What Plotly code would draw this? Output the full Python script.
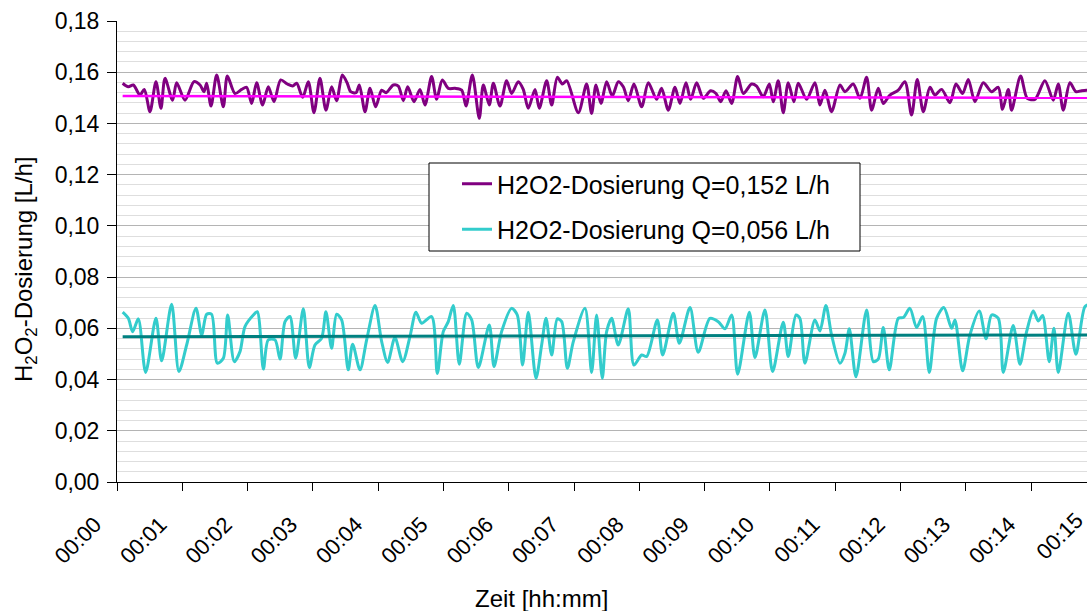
import plotly.graph_objects as go

# ---- data (time in seconds, dosing in L/h) ----
t_hi = [5.2, 10.4, 15.0, 21.1, 25.1, 30.3, 35.8, 40.4, 44.1, 51.1, 54.8, 62.5, 70.7, 76.3, 79.9, 82.4,
        86.4, 91.6, 97.7, 101.4, 108.4, 114.5, 119.1, 123.7, 128.3, 133.8, 139.0, 144.3, 150.4, 156.5,
        161.4, 165.1, 170.6, 175.8, 181.0, 186.5, 192.0, 197.2, 201.8, 207.0, 211.6, 214.7, 219.6, 222.7,
        227.9, 232.5, 237.7, 243.2, 247.2, 253.9, 258.5, 263.1, 267.1, 272.9, 278.4, 283.0, 289.1, 293.7,
        298.9, 304.4, 310.6, 316.7, 320.7, 326.5, 332.9, 336.6, 342.1, 345.8, 351.9, 358.0, 362.6, 368.7,
        373.3, 377.9, 384.1, 388.0, 394.8, 399.4, 404.6, 409.2, 413.2, 423.9, 431.5, 436.1, 440.1, 444.7,
        449.9, 455.1, 460.6, 465.2, 469.8, 475.0, 482.1, 488.2, 495.8, 500.4, 506.6, 512.7, 517.3, 522.8,
        527.1, 532.6, 538.7, 545.5, 550.4, 554.7, 559.6, 564.8, 570.3, 575.5, 583.1, 587.7, 593.8, 599.4,
        603.0, 607.6, 612.2, 616.8, 622.0, 626.0, 633.7, 641.3, 645.9, 650.5, 656.6, 664.3, 668.9, 676.5,
        682.7, 688.8, 693.4, 699.5, 704.1, 710.2, 717.9, 724.0, 730.1, 735.3, 740.9, 747.0, 751.6, 757.7,
        765.4, 770.9, 777.0, 782.2, 788.3, 796.0, 803.6, 809.8, 813.7, 819.0, 822.0, 830.3, 836.4, 843.5,
        852.6, 860.3, 864.9, 869.5, 875.6, 881.1, 886.3, 890.9, 894.0]
q_hi = [0.1557, 0.1543, 0.1550, 0.1511, 0.1533, 0.1446, 0.1563, 0.1459, 0.1576, 0.1491, 0.1559, 0.1491,
        0.1563, 0.1550, 0.1524, 0.1557, 0.1468, 0.1589, 0.1465, 0.1585, 0.1517, 0.1533, 0.1541, 0.1478,
        0.1559, 0.1472, 0.1543, 0.1485, 0.1570, 0.1554, 0.1546, 0.1557, 0.1502, 0.1563, 0.1442, 0.1576,
        0.1452, 0.1543, 0.1489, 0.1589, 0.1557, 0.1524, 0.1520, 0.1550, 0.1446, 0.1537, 0.1465, 0.1530,
        0.1520, 0.1550, 0.1546, 0.1489, 0.1543, 0.1485, 0.1533, 0.1472, 0.1583, 0.1494, 0.1570, 0.1537,
        0.1537, 0.1530, 0.1468, 0.1589, 0.1420, 0.1550, 0.1472, 0.1557, 0.1468, 0.1567, 0.1517, 0.1563,
        0.1533, 0.1459, 0.1533, 0.1459, 0.1567, 0.1472, 0.1580, 0.1554, 0.1567, 0.1442, 0.1554, 0.1439,
        0.1550, 0.1478, 0.1563, 0.1507, 0.1563, 0.1543, 0.1489, 0.1554, 0.1465, 0.1559, 0.1494, 0.1537,
        0.1452, 0.1541, 0.1478, 0.1559, 0.1494, 0.1559, 0.1498, 0.1528, 0.1517, 0.1485, 0.1528, 0.1478,
        0.1583, 0.1517, 0.1554, 0.1546, 0.1504, 0.1554, 0.1485, 0.1567, 0.1442, 0.1559, 0.1485, 0.1557,
        0.1494, 0.1559, 0.1472, 0.1530, 0.1446, 0.1550, 0.1524, 0.1554, 0.1498, 0.1580, 0.1452, 0.1537,
        0.1478, 0.1511, 0.1530, 0.1563, 0.1433, 0.1572, 0.1446, 0.1541, 0.1511, 0.1533, 0.1481, 0.1554,
        0.1517, 0.1572, 0.1485, 0.1559, 0.1524, 0.1541, 0.1455, 0.1533, 0.1452, 0.1585, 0.1498, 0.1494,
        0.1567, 0.1491, 0.1554, 0.1452, 0.1559, 0.1524, 0.1528, 0.1530, 0.1530]

t_lo = [5.2, 10.4, 14.4, 19.6, 26.3, 35.8, 41.0, 50.2, 56.9, 64.0, 72.6, 77.8, 82.4, 86.9, 92.2, 97.7,
        101.7, 107.8, 113.0, 117.6, 125.3, 128.9, 134.5, 139.0, 145.2, 149.8, 154.4, 158.9, 164.2, 171.2,
        176.7, 181.9, 188.0, 192.0, 197.2, 201.8, 206.4, 212.5, 216.5, 223.3, 229.4, 237.1, 243.2, 248.7,
        255.4, 262.5, 269.2, 274.7, 279.9, 289.1, 294.3, 299.8, 304.4, 309.0, 314.5, 321.3, 325.9, 332.0,
        342.1, 346.4, 353.4, 362.6, 367.8, 372.7, 377.9, 385.0, 390.2, 394.2, 399.4, 404.6, 408.6, 413.8,
        419.3, 430.0, 436.1, 440.7, 445.9, 449.9, 454.5, 460.6, 469.8, 475.0, 482.1, 486.7, 496.5, 501.4,
        511.2, 516.7, 526.5, 534.1, 544.8, 552.5, 558.6, 564.8, 570.3, 581.0, 586.2, 595.4, 602.4, 612.2,
        616.8, 623.9, 627.5, 632.1, 641.3, 645.9, 651.4, 656.6, 664.3, 668.9, 672.9, 679.0, 688.8, 694.9,
        699.5, 704.1, 709.6, 717.9, 722.5, 728.6, 734.7, 740.3, 746.4, 753.1, 759.8, 766.9, 770.0, 777.0,
        783.7, 792.3, 798.5, 803.6, 809.8, 814.4, 823.5, 829.7, 835.8, 841.9, 846.5, 850.5, 856.6, 860.9,
        864.9, 874.1, 881.1, 889.4, 894.0]
q_lo = [0.0663, 0.0639, 0.0587, 0.0637, 0.0428, 0.0639, 0.0473, 0.0694, 0.0431, 0.0535, 0.0678, 0.0574,
        0.0655, 0.0655, 0.0464, 0.0483, 0.0652, 0.0470, 0.0509, 0.0607, 0.0652, 0.0665, 0.0441, 0.0555,
        0.0555, 0.0480, 0.0626, 0.0646, 0.0483, 0.0676, 0.0447, 0.0535, 0.0561, 0.0665, 0.0522, 0.0655,
        0.0633, 0.0438, 0.0538, 0.0438, 0.0555, 0.0689, 0.0548, 0.0467, 0.0564, 0.0470, 0.0568, 0.0663,
        0.0620, 0.0646, 0.0424, 0.0587, 0.0626, 0.0689, 0.0460, 0.0659, 0.0633, 0.0447, 0.0613, 0.0451,
        0.0587, 0.0678, 0.0652, 0.0457, 0.0663, 0.0405, 0.0535, 0.0639, 0.0496, 0.0637, 0.0626, 0.0444,
        0.0548, 0.0678, 0.0428, 0.0652, 0.0405, 0.0587, 0.0639, 0.0535, 0.0676, 0.0457, 0.0496, 0.0490,
        0.0633, 0.0496, 0.0659, 0.0542, 0.0681, 0.0507, 0.0639, 0.0626, 0.0598, 0.0652, 0.0421, 0.0663,
        0.0486, 0.0672, 0.0431, 0.0624, 0.0490, 0.0652, 0.0639, 0.0464, 0.0633, 0.0590, 0.0689, 0.0574,
        0.0464, 0.0503, 0.0598, 0.0411, 0.0672, 0.0470, 0.0480, 0.0603, 0.0438, 0.0639, 0.0642, 0.0678,
        0.0603, 0.0646, 0.0428, 0.0639, 0.0681, 0.0600, 0.0633, 0.0434, 0.0574, 0.0668, 0.0559, 0.0652,
        0.0639, 0.0428, 0.0611, 0.0460, 0.0587, 0.0668, 0.0629, 0.0650, 0.0470, 0.0600, 0.0428, 0.0659,
        0.0499, 0.0685, 0.0694]

# linear trend lines (start / end values)
trend_hi = [0.1507, 0.1500]
trend_lo = [0.0567, 0.0574]

names = ["H2O2-Dosierung Q=0,152 L/h", "H2O2-Dosierung Q=0,056 L/h"]
tick_minutes = list(range(0, 16))
tick_labels = ["00:%02d" % m for m in tick_minutes]

x_max = 14.855  # visible end of the time axis (minutes)

FONT = "Liberation Sans, Arial, sans-serif"

PLOT_L, PLOT_T, PLOT_W, PLOT_H = 117, 21, 970, 461   # plot area in page pixels
PLOT_B = PLOT_T + PLOT_H
W, H = 1087, 611


def px(xp):
    return (xp - PLOT_L) / PLOT_W


def py(yp):
    return (PLOT_B - yp) / PLOT_H


def minutes(ts):
    return [t / 60.0 for t in ts]


fig = go.Figure()
fig.add_trace(go.Scatter(x=minutes(t_hi), y=q_hi, mode="lines", name=names[0],
                         line=dict(color="#800080", width=3, shape="spline", smoothing=0.8),
                         legendgroup="a"))
fig.add_trace(go.Scatter(x=minutes([t_hi[0], t_hi[-1]]), y=trend_hi, mode="lines", showlegend=False,
                         line=dict(color="#FF00FF", width=2.5)))
fig.add_trace(go.Scatter(x=minutes(t_lo), y=q_lo, mode="lines", name=names[1],
                         line=dict(color="#33CCCC", width=3, shape="spline", smoothing=0.8),
                         legendgroup="b"))
fig.add_trace(go.Scatter(x=minutes([t_lo[0], t_lo[-1]]), y=trend_lo, mode="lines", showlegend=False,
                         line=dict(color="#008080", width=3)))

vis = [m for m in tick_minutes if m <= x_max]

fig.update_layout(
    width=W, height=H,
    margin=dict(l=PLOT_L, r=W - PLOT_L - PLOT_W, t=PLOT_T, b=H - PLOT_B),
    paper_bgcolor="white", plot_bgcolor="white",
    font=dict(family=FONT, size=22, color="black"),
    separators=",.",
    showlegend=True,
    legend=dict(x=px(457), y=py(161), xanchor="left", yanchor="top",
                bgcolor="rgba(0,0,0,0)", borderwidth=0, font=dict(size=25),
                tracegroupgap=10),
    xaxis=dict(range=[0, x_max], tickvals=vis, ticktext=tick_labels[:len(vis)],
               tickangle=-45, ticks="outside", ticklen=8, tickcolor="black",
               ticklabelstandoff=12, ticklabelshift=-22,
               showline=True, linecolor="black", linewidth=1, showgrid=False, zeroline=False,
               tickfont=dict(size=22)),
    yaxis=dict(range=[0, 0.18], dtick=0.02, tickformat=".2f", ticks="outside", ticklen=9,
               tickcolor="black", showline=True, linecolor="black", linewidth=1,
               showgrid=True, gridcolor="#b4b4b4", gridwidth=1, zeroline=False,
               tickfont=dict(size=23), ticklabelstandoff=3,
               minor=dict(dtick=0.004, showgrid=True, gridcolor="#dedede", gridwidth=1)),
    shapes=[dict(type="rect", xref="paper", yref="paper",
                 x0=px(429), x1=px(860), y0=py(251), y1=py(163),
                 line=dict(color="black", width=1), fillcolor="white", layer="above")],
    annotations=[
        dict(text="H<sub>2</sub>O<sub>2</sub>-Dosierung [L/h]", textangle=-90, showarrow=False,
             xref="paper", yref="paper", x=px(25), y=py(270),
             xanchor="center", yanchor="middle", font=dict(size=24)),
        dict(text="Zeit [hh:mm]", showarrow=False, xref="paper", yref="paper",
             x=px(541), y=py(598), xanchor="center", yanchor="middle",
             font=dict(size=24)),
        dict(text=tick_labels[-1], textangle=-45, showarrow=False, xref="paper", yref="paper",
             x=px(1059), y=py(536), xanchor="center", yanchor="middle",
             font=dict(size=22)),
    ],
)

# the page body gets no default margin, so the figure fills the window exactly
fig.write_html("out.html", config={"displayModeBar": False},
               post_script="document.body.style.margin='0px';")
